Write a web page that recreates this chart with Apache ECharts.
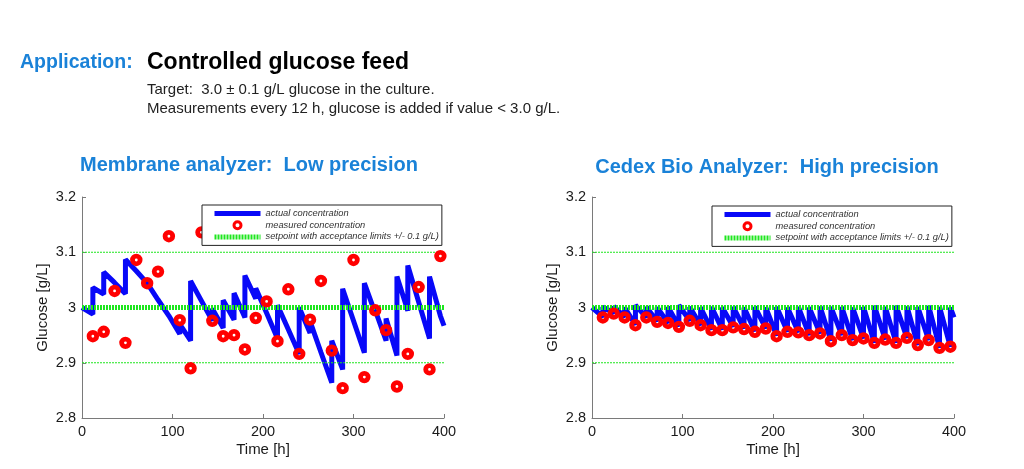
<!DOCTYPE html>
<html>
<head>
<meta charset="utf-8">
<script src="https://cdn.jsdelivr.net/npm/echarts@6/dist/echarts.min.js"></script>
<style>
  html, body { margin: 0; padding: 0; background: #fff; }
  #chart { width: 1024px; height: 469px; }
</style>
</head>
<body>
<div id="chart"></div>
<script>
// measurement times [h]
var measureTimes = [12, 24, 36, 48, 60, 72, 84, 96, 108, 120, 132, 144, 156, 168, 180, 192, 204,
  216, 228, 240, 252, 264, 276, 288, 300, 312, 324, 336, 348, 360, 372, 384, 396];

// membrane analyzer, measured glucose [g/L]
var leftMeasured = [2.948, 2.956, 3.030, 2.936, 3.086, 3.044, 3.065, 3.129, 2.977, 2.890, 3.136,
  2.976, 2.948, 2.950, 2.924, 2.981, 3.011, 2.939, 3.033, 2.916, 2.978, 3.048, 2.922, 2.854,
  3.086, 2.874, 2.995, 2.959, 2.857, 2.916, 3.037, 2.888, 3.093];

// cedex bio analyzer, measured glucose [g/L]
var rightMeasured = [2.982, 2.989, 2.982, 2.968, 2.982, 2.974, 2.972, 2.965, 2.976, 2.968, 2.959,
  2.959, 2.964, 2.961, 2.956, 2.962, 2.948, 2.956, 2.955, 2.950, 2.953, 2.939, 2.950, 2.941,
  2.944, 2.936, 2.942, 2.936, 2.945, 2.932, 2.941, 2.927, 2.929];

// actual concentration, [time, glucose] (sawtooth: before / after feed)
var leftActual = [[0, 3.000], [12, 2.988], [12, 3.036], [24, 3.024], [24, 3.064], [36, 3.045],
  [48, 3.025], [48, 3.087], [60, 3.066], [72, 3.044], [84, 3.014], [96, 2.985], [108, 2.952],
  [108, 2.970], [120, 2.940], [120, 3.048], [132, 3.012], [144, 2.976], [144, 2.998],
  [156, 2.963], [156, 3.013], [168, 2.978], [168, 3.026], [180, 2.982], [180, 3.058],
  [192, 3.016], [192, 3.035], [204, 2.990], [216, 2.944], [216, 3.004], [228, 2.960],
  [240, 2.916], [240, 3.000], [252, 2.954], [252, 2.975], [264, 2.919], [276, 2.864],
  [276, 2.940], [288, 2.888], [288, 3.034], [300, 2.976], [312, 2.918], [312, 3.044],
  [324, 2.990], [324, 2.995], [336, 2.940], [336, 2.980], [348, 2.913], [348, 3.056],
  [360, 2.994], [360, 3.076], [372, 3.010], [384, 2.944], [384, 3.056], [396, 2.985],
  [400, 2.967]];

var rightActual = [[0, 3.000], [12, 2.983], [12, 3.001], [24, 2.990], [24, 3.002], [36, 2.983],
  [36, 3.000], [48, 2.969], [48, 3.004], [60, 2.982], [60, 3.001], [72, 2.975], [72, 3.000],
  [84, 2.972], [84, 3.001], [96, 2.966], [96, 3.004], [108, 2.976], [108, 3.001], [120, 2.968],
  [120, 3.000], [132, 2.960], [132, 3.001], [144, 2.960], [144, 3.000], [156, 2.965],
  [156, 3.001], [168, 2.962], [168, 3.000], [180, 2.957], [180, 3.001], [192, 2.962],
  [192, 3.000], [204, 2.949], [204, 3.001], [216, 2.956], [216, 3.000], [228, 2.955],
  [228, 3.001], [240, 2.950], [240, 3.000], [252, 2.953], [252, 3.002], [264, 2.940],
  [264, 3.001], [276, 2.950], [276, 3.001], [288, 2.941], [288, 3.000], [300, 2.944],
  [300, 3.001], [312, 2.936], [312, 3.003], [324, 2.942], [324, 3.001], [336, 2.936],
  [336, 3.003], [348, 2.945], [348, 3.002], [360, 2.932], [360, 3.001], [372, 2.941],
  [372, 3.003], [384, 2.927], [384, 3.001], [396, 2.929], [396, 3.000], [400, 2.982]];

var setpoint = 3.0;
var limits = [2.9, 3.1];
var timeRange = [0, 400];
var glucoseRange = [2.8, 3.2];

var FONT = '"Liberation Sans", Arial, sans-serif';
var BLUE = '#0808f8';
var RED = '#ff0000';
var GREEN = '#1ee61e';
var TITLE_BLUE = '#1a82d8';
var AXIS = '#7a7a7a';

var NAME_ACTUAL = 'actual concentration';
var NAME_MEASURED = 'measured concentration';
var NAME_SET = 'setpoint with acceptance limits +/- 0.1 g/L)';

var chart = echarts.init(document.getElementById('chart'));

function pairs(times, values) {
  return times.map(function (t, i) { return [t, values[i]]; });
}

function xAxis(idx) {
  return {
    gridIndex: idx, type: 'value', min: timeRange[0], max: timeRange[1], interval: 100,
    name: 'Time [h]', nameLocation: 'middle', nameGap: 24,
    nameTextStyle: { fontFamily: FONT, fontSize: 15, color: '#1a1a1a' },
    axisLine: { lineStyle: { color: AXIS, width: 1 } },
    axisTick: { inside: true, length: 4, lineStyle: { color: AXIS } },
    axisLabel: { margin: 6, fontFamily: FONT, fontSize: 14.5, color: '#1a1a1a' },
    splitLine: { show: false }
  };
}

function yAxis(idx) {
  return {
    gridIndex: idx, type: 'value', min: glucoseRange[0], max: glucoseRange[1], interval: 0.1,
    name: 'Glucose [g/L]', nameLocation: 'middle', nameGap: 32, nameRotate: 90,
    nameTextStyle: { fontFamily: FONT, fontSize: 15, color: '#1a1a1a' },
    axisLine: { show: true, lineStyle: { color: AXIS, width: 1 } },
    axisTick: { show: true, inside: true, length: 4, lineStyle: { color: AXIS } },
    axisLabel: { margin: 6, fontFamily: FONT, fontSize: 14.5, color: '#1a1a1a' },
    splitLine: { show: false }
  };
}

function seriesFor(idx, actual, measured) {
  return [
    {
      name: NAME_ACTUAL, type: 'line', xAxisIndex: idx, yAxisIndex: idx,
      data: actual, symbol: 'none', z: 1,
      lineStyle: { color: BLUE, width: 5, join: 'bevel' }, itemStyle: { color: BLUE }
    },
    {
      name: NAME_SET, type: 'line', xAxisIndex: idx, yAxisIndex: idx,
      data: [[timeRange[0], setpoint], [timeRange[1], setpoint]], symbol: 'none', z: 2,
      lineStyle: { color: GREEN, width: 5, type: [2, 1] }, itemStyle: { color: GREEN }
    },
    {
      name: 'limit-low', type: 'line', xAxisIndex: idx, yAxisIndex: idx,
      data: [[timeRange[0], limits[0]], [timeRange[1], limits[0]]], symbol: 'none', z: 2,
      lineStyle: { color: GREEN, width: 1, type: [2, 1] }
    },
    {
      name: 'limit-high', type: 'line', xAxisIndex: idx, yAxisIndex: idx,
      data: [[timeRange[0], limits[1]], [timeRange[1], limits[1]]], symbol: 'none', z: 2,
      lineStyle: { color: GREEN, width: 1, type: [2, 1] }
    },
    {
      name: NAME_MEASURED, type: 'scatter', xAxisIndex: idx, yAxisIndex: idx,
      data: pairs(measureTimes, measured), symbol: 'circle', symbolSize: 7.6, z: 3,
      itemStyle: { color: 'rgba(0,0,0,0)', borderColor: RED, borderWidth: 4.8, opacity: 1 }
    }
  ];
}

function legendAt(left, top) {
  return {
    left: left, top: top, orient: 'vertical', z: 10,
    itemWidth: 46, itemHeight: 7, itemGap: 0.7, padding: [3, 3, 3, 10],
    backgroundColor: '#fff', borderColor: '#222', borderWidth: 1, borderRadius: 0,
    selectedMode: false,
    textStyle: { fontFamily: FONT, fontStyle: 'italic', fontSize: 9.3, lineHeight: 11, color: '#333' },
    data: [
      { name: NAME_ACTUAL, lineStyle: { width: 5, color: BLUE }, itemStyle: { opacity: 0 } },
      { name: NAME_MEASURED, itemStyle: { borderWidth: 3, borderColor: RED } },
      { name: NAME_SET, lineStyle: { width: 5, color: GREEN, type: [2, 1] }, itemStyle: { opacity: 0 } }
    ]
  };
}

var titleText = { fontFamily: FONT, fontWeight: 'bold' };

chart.setOption({
  animation: false,
  backgroundColor: '#fff',
  title: [
    { text: 'Application:', left: 20, top: 53, padding: 0,
      textStyle: Object.assign({ color: TITLE_BLUE, fontSize: 19.5 }, titleText) },
    { text: 'Controlled glucose feed', left: 147, top: 51, padding: 0,
      textStyle: Object.assign({ color: '#000', fontSize: 23 }, titleText) },
    { text: 'Target:  3.0 \u00b1 0.1 g/L glucose in the culture.', left: 147, top: 82, padding: 0,
      textStyle: { fontFamily: FONT, fontSize: 15, fontWeight: 'normal', color: '#222' } },
    { text: 'Measurements every 12 h, glucose is added if value < 3.0 g/L.', left: 147, top: 101, padding: 0,
      textStyle: { fontFamily: FONT, fontSize: 15, fontWeight: 'normal', color: '#222' } },
    { text: 'Membrane analyzer:  Low precision', left: 249, top: 155, textAlign: 'center', padding: 0,
      textStyle: Object.assign({ color: TITLE_BLUE, fontSize: 20 }, titleText) },
    { text: 'Cedex Bio Analyzer:  High precision', left: 767, top: 157, textAlign: 'center', padding: 0,
      textStyle: Object.assign({ color: TITLE_BLUE, fontSize: 20 }, titleText) }
  ],
  legend: [legendAt(202, 205), legendAt(712, 206)],
  grid: [
    { left: 82, top: 197, width: 362, height: 221 },
    { left: 592, top: 197, width: 362, height: 221 }
  ],
  xAxis: [xAxis(0), xAxis(1)],
  yAxis: [yAxis(0), yAxis(1)],
  series: seriesFor(0, leftActual, leftMeasured).concat(seriesFor(1, rightActual, rightMeasured))
});
</script>
</body>
</html>
